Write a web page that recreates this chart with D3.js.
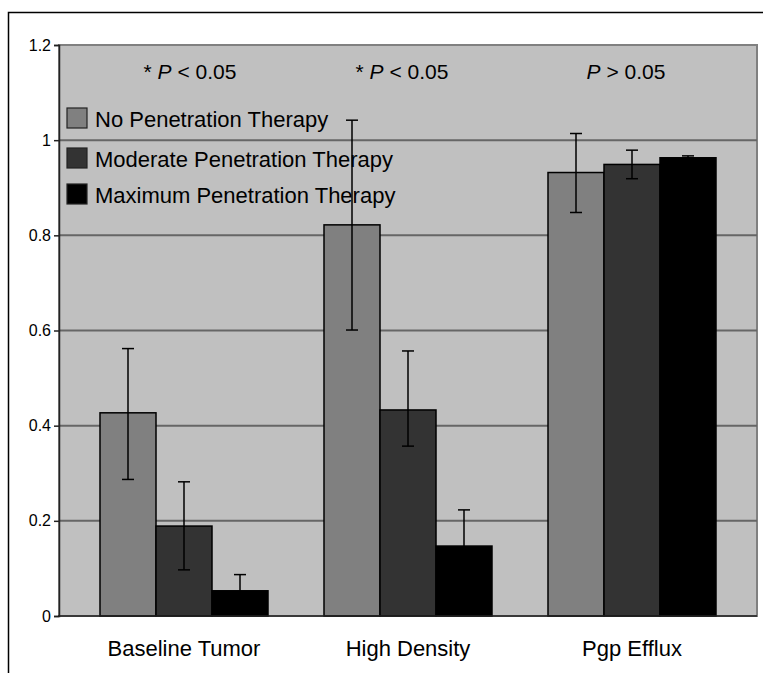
<!DOCTYPE html>
<html>
<head>
<meta charset="utf-8">
<script src="https://cdn.jsdelivr.net/npm/d3@7"></script>
<style>
  body { margin: 0; background: #fff; }
  svg text { font-family: "Liberation Sans", Arial, sans-serif; }
</style>
</head>
<body>
<svg id="chart" width="763" height="673"></svg>
<script>
// chart data
const categories = ["Baseline Tumor", "High Density", "Pgp Efflux"];
const seriesNames = ["No Penetration Therapy", "Moderate Penetration Therapy", "Maximum Penetration Therapy"];
const noPen = [0.427, 0.822, 0.932];
const noPenErrHi = [0.135, 0.22, 0.082];
const noPenErrLo = [0.14, 0.221, 0.084];
const modPen = [0.189, 0.433, 0.949];
const modPenErrHi = [0.093, 0.124, 0.03];
const modPenErrLo = [0.092, 0.076, 0.03];
const maxPen = [0.053, 0.147, 0.963];
const maxPenErrHi = [0.034, 0.076, 0.004];
const maxPenErrLo = [0.034, 0.076, 0.004];
const pLabels = ["* P < 0.05", "* P < 0.05", "P > 0.05"];
const yTicks = [0, 0.2, 0.4, 0.6, 0.8, 1, 1.2];

const colors = ["#808080", "#333333", "#000000"];
const values = [noPen, modPen, maxPen];
const errHi = [noPenErrHi, modPenErrHi, maxPenErrHi];
const errLo = [noPenErrLo, modPenErrLo, maxPenErrLo];

const svg = d3.select("#chart");
const plot = { left: 59, right: 757, top: 45, bottom: 616 };

// outer frame (runs off the page on the right and bottom)
svg.append("rect")
  .attr("x", 8.5).attr("y", 12.5)
  .attr("width", 800).attr("height", 700)
  .attr("fill", "none").attr("stroke", "#000").attr("stroke-width", 1.5);

let y = d3.scaleLinear().domain([0, 1.2]).range([plot.bottom, plot.top]);
let x0 = d3.scaleBand().domain(categories).range([72, 744])
  .paddingInner(0.25).paddingOuter(0.125);
let x1 = d3.scaleBand().domain(d3.range(3)).range([0, x0.bandwidth()]);

// plot background
svg.append("rect")
  .attr("x", plot.left).attr("y", plot.top)
  .attr("width", plot.right - plot.left).attr("height", plot.bottom - plot.top)
  .attr("fill", "#c0c0c0").attr("stroke", "#808080").attr("stroke-width", 2);

// gridlines
svg.append("g").selectAll("line")
  .data(yTicks.filter(t => t > 0 && t < 1.2))
  .enter().append("line")
  .attr("x1", plot.left).attr("x2", plot.right)
  .attr("y1", d => y(d)).attr("y2", d => y(d))
  .attr("stroke", "#666").attr("stroke-width", 2);

// y axis
let yAxis = d3.axisLeft(y).tickValues(yTicks).tickSize(5).tickPadding(3)
  .tickFormat(d => d3.format("")(d));
let ag = svg.append("g").attr("transform", `translate(${plot.left},0)`).call(yAxis);
ag.attr("font-family", null).attr("font-size", null);
ag.select(".domain").attr("stroke", "#222").attr("stroke-width", 1.5);
ag.selectAll(".tick line").attr("stroke", "#222").attr("stroke-width", 1.5);
ag.selectAll(".tick text").attr("font-size", 16).attr("fill", "#000");

// legend + annotations are drawn before bars so error bars sit on top
const legendY = [118, 158, 194];
let lg = svg.append("g");
seriesNames.forEach(function(name, i) {
  lg.append("rect")
    .attr("x", 67).attr("y", legendY[i] - 10)
    .attr("width", 20).attr("height", 20)
    .attr("fill", colors[i]).attr("stroke", "#222").attr("stroke-width", 1.2);
  lg.append("text")
    .attr("x", 95).attr("y", legendY[i] + 9)
    .attr("font-size", 22).attr("fill", "#000")
    .text(name);
});

// p-value labels, with the P in italic (text boxes sit a bit off the group centres)
const pShift = [6, -6, -6];
let pl = svg.append("g").selectAll("text")
  .data(pLabels)
  .enter().append("text")
  .attr("x", (d, i) => x0(categories[i]) + x0.bandwidth() / 2 + pShift[i])
  .attr("y", 79)
  .attr("text-anchor", "middle")
  .attr("font-size", 21)
  .attr("fill", "#000");
pl.each(function(d) {
  let t = d3.select(this);
  let idx = d.indexOf("P");
  if (idx > 0) t.append("tspan").text(d.slice(0, idx));
  t.append("tspan").attr("font-style", "italic").text("P");
  t.append("tspan").text(d.slice(idx + 1));
});

// bars
let groups = svg.append("g").selectAll("g")
  .data(categories)
  .enter().append("g")
  .attr("transform", d => `translate(${x0(d)},0)`);

groups.each(function(cat, ci) {
  let g = d3.select(this);
  for (let s = 0; s < 3; s++) {
    let v = values[s][ci];
    g.append("rect")
      .attr("x", x1(s)).attr("y", y(v))
      .attr("width", x1.bandwidth()).attr("height", y(0) - y(v))
      .attr("fill", colors[s]).attr("stroke", "#000").attr("stroke-width", 1.5);
  }
  for (let s = 0; s < 3; s++) {
    let v = values[s][ci];
    let lo = v - errLo[s][ci], hi = v + errHi[s][ci];
    let cx = x1(s) + x1.bandwidth() / 2;
    g.append("line")
      .attr("x1", cx).attr("x2", cx)
      .attr("y1", y(lo)).attr("y2", y(hi))
      .attr("stroke", "#000").attr("stroke-width", 1.5);
    [lo, hi].forEach(function(ev) {
      g.append("line")
        .attr("x1", cx - 6).attr("x2", cx + 6)
        .attr("y1", y(ev)).attr("y2", y(ev))
        .attr("stroke", "#000").attr("stroke-width", 1.5);
    });
  }
});

// bottom axis line
svg.append("line")
  .attr("x1", plot.left - 1).attr("x2", plot.right)
  .attr("y1", y(0)).attr("y2", y(0))
  .attr("stroke", "#222").attr("stroke-width", 1.5);

// category labels
svg.append("g").selectAll("text")
  .data(categories)
  .enter().append("text")
  .attr("x", d => x0(d) + x0.bandwidth() / 2)
  .attr("y", 656)
  .attr("text-anchor", "middle")
  .attr("font-size", 22)
  .attr("fill", "#000")
  .text(d => d);
</script>
</body>
</html>
